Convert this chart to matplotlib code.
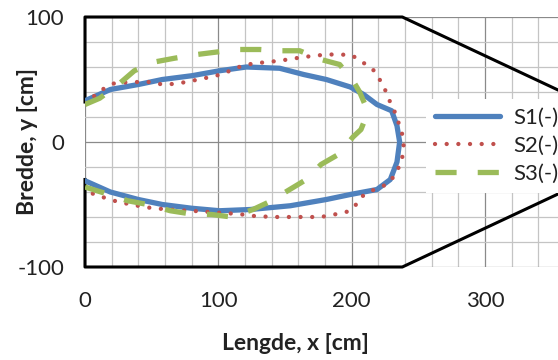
import numpy as np
import matplotlib
matplotlib.use("Agg")
import matplotlib.pyplot as plt

plt.rcParams['font.family'] = ['Lato', 'DejaVu Sans']
plt.rcParams['axes.unicode_minus'] = False

# Series (x, y) in cm
s1_x = [0, 19, 40, 58, 80, 101, 121, 146, 164, 181, 199, 209, 219, 230, 234, 236,
        234, 229, 219, 199, 181, 154, 124, 101, 80, 58, 40, 19, 0]
s1_y = [33, 42, 46, 50, 53, 57, 60, 59, 54, 50, 44, 38, 30, 25, 13, 0,
        -16, -30, -38, -42, -46, -51, -54, -55, -53, -50, -46, -40, -31]

s2_x = [0, 13, 22, 35, 49, 58, 67, 76, 85, 94, 102, 111, 119, 128, 137, 146, 164, 181, 191, 200,
        208, 216, 221, 225, 228, 232, 235, 238, 239, 238, 235, 230, 224, 215, 207, 202, 196, 187,
        177, 141, 124, 115, 106, 87, 70, 51, 42, 25, 16, 7, 0]
s2_y = [31, 42, 47, 48, 48, 46, 46.5, 48, 50, 52, 54, 58, 61.5, 63, 64, 65, 68, 70, 70, 69.5,
        64, 58, 50, 42, 34, 25, 16, 6, -3, -12, -21, -30, -35, -39, -44, -52, -56, -58,
        -60, -60, -59, -57.5, -57, -55.5, -54.5, -53, -51.5, -48, -45, -42, -38]

s3_x = [0, 11, 25, 37, 52, 67, 84, 99, 115, 131, 146, 161, 177, 191, 201, 206, 210, 210,
        207, 201, 190, 177, 166, 152, 140, 126, 110, 95, 79, 64, 47, 32, 15, 0]
s3_y = [30, 35, 46, 57, 64, 67, 70, 72, 74, 74, 73, 73, 66, 62, 49, 40, 30, 18,
        10, 4, -10, -18, -30, -39, -47, -54, -60, -58, -57.5, -55, -50, -47, -41, -36]

# Channel walls (black)
wall_top_x = [0, 0, 238, 400]
wall_top_y = [32, 100, 100, 19]
wall_bot_x = [0, 0, 238, 400]
wall_bot_y = [-30, -100, -100, -19]

labels = ['S1(-)', 'S2(-)', 'S3(-)']

fig = plt.figure(figsize=(5.58, 3.6), dpi=100)
ax = fig.add_axes([85 / 558, 93 / 360, 533.3 / 558, 250 / 360])

ax.set_xlim(0, 400)
ax.set_ylim(-100, 100)
ax.set_xticks([0, 100, 200, 300])
ax.set_yticks([-100, 0, 100])
ax.set_xticks(np.arange(0, 401, 20), minor=True)
ax.set_yticks(np.arange(-100, 101, 20), minor=True)
ax.grid(True, which='minor', color='#c4c4c4', lw=0.9, zorder=0)
ax.grid(True, which='major', color='#8a8a8a', lw=0.9, zorder=0)
ax.axvline(400, color='#8a8a8a', lw=0.9, zorder=0)
ax.set_axisbelow(True)
for sp in ax.spines.values():
    sp.set_visible(False)
ax.tick_params(which='both', length=0)
ax.tick_params(axis='x', pad=17, labelsize=16, labelcolor='#222222')
ax.tick_params(axis='y', pad=15, labelsize=16, labelcolor='#222222')

ax.plot(wall_top_x, wall_top_y, color='black', lw=2.2, zorder=2, clip_on=False)
ax.plot(wall_bot_x, wall_bot_y, color='black', lw=2.2, zorder=2, clip_on=False)

l1, = ax.plot(s1_x, s1_y, color='#4f81bd', lw=3.8, zorder=3, solid_capstyle='round')
l2, = ax.plot(s2_x, s2_y, color='#c0504d', lw=3.1, zorder=4,
              linestyle=(0, (0.01, 2.7)), dash_capstyle='round')
l3, = ax.plot(s3_x, s3_y, color='#9bbb59', lw=3.8, zorder=5, linestyle=(0, (4, 4)))

leg = ax.legend([l1, l2, l3], labels, loc='upper left',
                bbox_to_anchor=(426 / 558, 1 - 99 / 360), bbox_transform=fig.transFigure,
                fontsize=16, handlelength=2.95, handletextpad=0.58, labelspacing=0.36,
                borderpad=0.4, borderaxespad=0, frameon=True, fancybox=False)
leg.get_frame().set_facecolor('white')
leg.get_frame().set_edgecolor('none')
leg.get_frame().set_alpha(1)
leg.set_zorder(10)
for t in leg.get_texts():
    t.set_color('#222222')

fig.text(295 / 558, 1 - 343 / 360, 'Lengde, x [cm]', ha='center', va='center',
         fontsize=16.5, fontweight='bold', color='#222222')
fig.text(28 / 558, 1 - 142 / 360, 'Bredde, y [cm]', ha='center', va='center',
         rotation=90, fontsize=16.5, fontweight='bold', color='#222222')

fig.savefig('out.png', dpi=100)
